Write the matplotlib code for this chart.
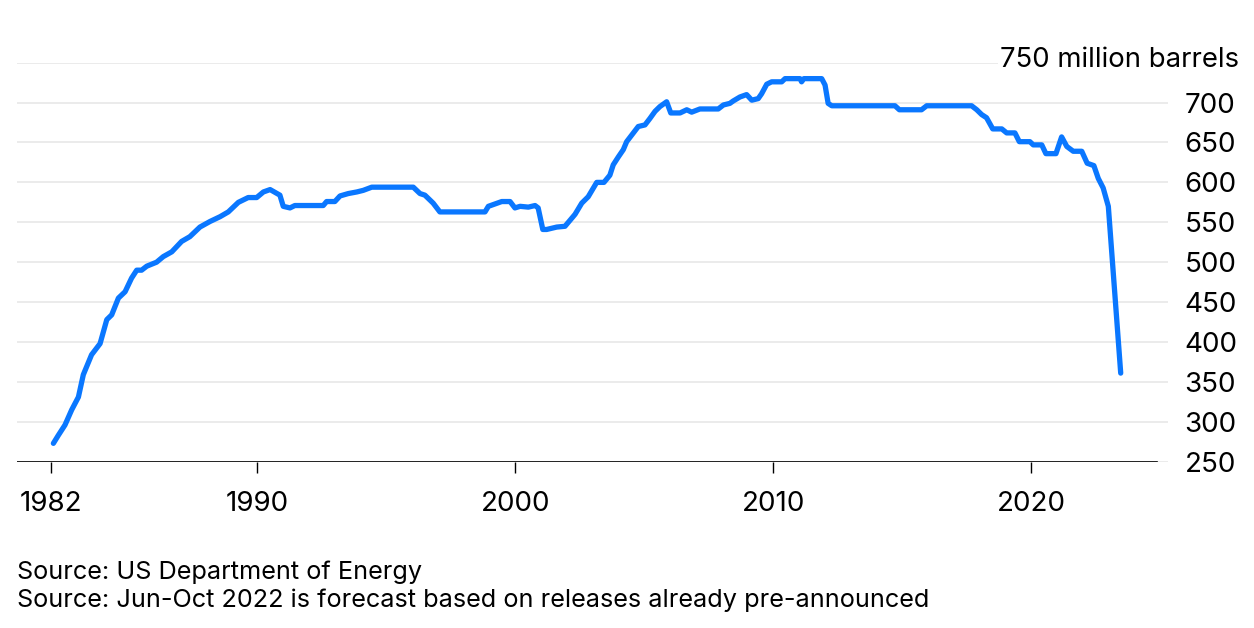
import matplotlib
matplotlib.use("Agg")
import matplotlib.pyplot as plt

plt.rcParams["font.family"] = ["Inter", "DejaVu Sans"]

# US Strategic Petroleum Reserve, million barrels
years = [
    1982.09, 1982.28, 1982.54, 1982.80, 1983.06, 1983.25, 1983.57, 1983.90,
    1984.16, 1984.35, 1984.61, 1984.87, 1985.12, 1985.32, 1985.51, 1985.71,
    1986.09, 1986.35, 1986.68, 1987.06, 1987.38, 1987.77, 1988.16, 1988.55,
    1988.87, 1989.26, 1989.64, 1989.97, 1990.23, 1990.49, 1990.87, 1991.00,
    1991.26, 1991.45, 1992.55, 1992.68, 1993.00, 1993.20, 1993.52, 1993.85,
    1994.10, 1994.43, 1996.04, 1996.30, 1996.49, 1996.81, 1997.07, 1998.82,
    1998.95, 1999.21, 1999.47, 1999.79, 1999.98, 2000.18, 2000.50, 2000.76,
    2000.88, 2001.06, 2001.21, 2001.60, 2001.92, 2002.18, 2002.31, 2002.57,
    2002.82, 2003.15, 2003.43, 2003.66, 2003.79, 2003.99, 2004.18, 2004.31,
    2004.50, 2004.76, 2005.02, 2005.21, 2005.41, 2005.60, 2005.86, 2006.02,
    2006.38, 2006.64, 2006.83, 2007.15, 2007.86, 2008.06, 2008.31, 2008.44,
    2008.70, 2008.96, 2009.16, 2009.41, 2009.54, 2009.74, 2009.93, 2010.32,
    2010.45, 2011.03, 2011.09, 2011.18, 2011.87, 2012.00, 2012.12, 2012.26,
    2014.71, 2014.88, 2015.74, 2015.94, 2017.68, 2017.88, 2018.07, 2018.26,
    2018.50, 2018.85, 2019.04, 2019.36, 2019.53, 2019.94, 2020.07, 2020.40,
    2020.56, 2020.95, 2021.17, 2021.37, 2021.62, 2021.95, 2022.16, 2022.42,
    2022.59, 2022.78, 2022.98, 2023.46,
]
barrels = [
    273, 283, 296, 315, 331, 359, 384, 398,
    428, 434, 455, 463, 480, 490, 490, 495,
    500, 507, 513, 526, 532, 544, 551, 557,
    563, 575, 581, 581, 588, 591, 584, 570,
    568, 571, 571, 576, 576, 583, 586, 588,
    590, 594, 594, 586, 584, 574, 563, 563,
    570, 573, 576, 576, 568, 570, 569, 571,
    568, 541, 541, 544, 545, 555, 560, 574,
    582, 600, 600, 609, 622, 632, 641, 651,
    659, 670, 672, 680, 689, 695, 701, 687,
    687, 691, 688, 692, 692, 697, 699, 702,
    707, 710, 703, 705, 711, 723, 726, 726,
    730, 730, 726, 730, 730, 722, 699, 696,
    696, 691, 691, 696, 696, 691, 685, 681,
    667, 667, 662, 662, 651, 651, 647, 647,
    636, 636, 657, 645, 639, 639, 624, 621,
    605, 593, 570, 361,
]

x_ticks = [1982, 1990, 2000, 2010, 2020]
y_ticks = [250, 300, 350, 400, 450, 500, 550, 600, 650, 700, 750]
y_labels = ["250", "300", "350", "400", "450", "500", "550", "600", "650", "700", ""]
unit_label = "750 million barrels"
notes = [
    "Source: US Department of Energy",
    "Source: Jun-Oct 2022 is forecast based on releases already pre-announced",
]

fig = plt.figure(figsize=(12.54, 6.28), dpi=100)
ax = fig.add_axes([0.01356, 0.2648, 0.9178, 0.6354])

ax.plot(years, barrels, color="#0a77ff", lw=3.8, solid_joinstyle="round",
        solid_capstyle="round", zorder=3)

ax.set_xlim(1980.68, 2025.29)
ax.set_ylim(250, 750)

ax.set_yticks(y_ticks)
ax.set_yticklabels(y_labels)
ax.yaxis.tick_right()
ax.tick_params(axis="y", length=0, pad=12, labelsize=20, labelcolor="black")
ax.grid(axis="y", color="#ebebeb", lw=1.4, zorder=0)

ax.set_xticks(x_ticks)
ax.set_xticklabels([str(y) for y in x_ticks])
ax.tick_params(axis="x", length=8, width=1.0, pad=13, labelsize=20, color="black")

for side in ["top", "right", "left", "bottom"]:
    ax.spines[side].set_visible(False)
ax.axhline(250, xmin=0, xmax=0.9905, color="black", lw=1.2, zorder=2)

ax.text(1.0617, 753, unit_label, transform=ax.get_yaxis_transform(),
        ha="right", va="center", fontsize=19.8,
        bbox=dict(facecolor="white", edgecolor="none", pad=1), clip_on=False)

fig.text(0.0136, 0.0892, notes[0], ha="left", va="center", fontsize=18.2)
fig.text(0.0136, 0.0446, notes[1], ha="left", va="center", fontsize=18.2)

fig.savefig("out.png", dpi=100)
